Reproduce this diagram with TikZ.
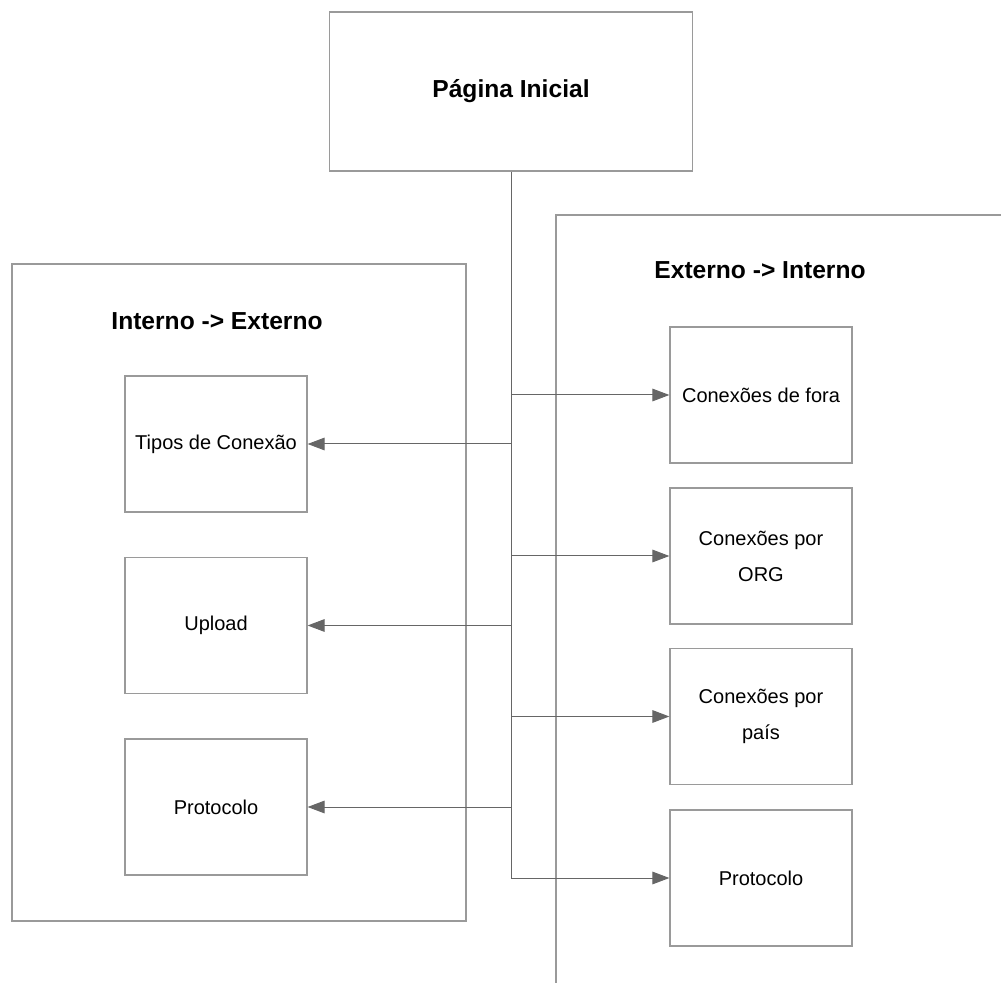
\documentclass[tikz,border=0pt]{standalone}
\usepackage{fontspec}
\setmainfont{Liberation Sans}
\usetikzlibrary{arrows.meta}
\definecolor{cinzaborda}{HTML}{9A9A9A}
\definecolor{cinzaseta}{HTML}{666666}

\begin{document}
\begin{tikzpicture}[x=0.5pt,y=-0.5pt,
		moldura/.style={draw=cinzaborda, line width=0.6pt, inner sep=0pt},
		caixa/.style={draw=cinzaborda, line width=0.6pt, minimum width=91pt, minimum height=68pt, inner sep=0pt, align=center, font=\fontsize{10}{18}\selectfont},
		titulo/.style={font=\fontsize{12.3}{15}\selectfont\bfseries},
		seta/.style={draw=cinzaseta, line width=0.5pt, -{Triangle[length=8.5pt, width=6.3pt]}}]
		\useasboundingbox (0,0) rectangle (1001,983);
		\clip (0,0) rectangle (1001,983);
		% grupos
		\node[moldura, minimum width=227pt, minimum height=328.5pt] (interno) at (239,592.5) {};
		\node[moldura, minimum width=230pt, minimum height=400pt] (externo) at (786,615) {};
		\node[titulo] (tInterno) at (217,321) {Interno -> Externo};
		\node[titulo] (tExterno) at (760,270) {Externo -> Interno};
		% pagina inicial
		\node[caixa, minimum width=181.5pt, minimum height=79.5pt] (inicio) at (511,91.5) {};
		\node[titulo] (tInicio) at (inicio) {Página Inicial};
		% caixas
		\foreach \n/\y/\t in {1/444/Tipos de Conexão, 2/625.5/Upload, 3/807/Protocolo}
		{
			\node[caixa] (i\n) at (216,\y) {\t};
		}
		\foreach \n/\y/\t in {1/395/Conexões de fora, 2/556/{Conexões por\\ORG}, 3/716.5/{Conexões por\\país}, 4/878/Protocolo}
		{
			\node[caixa] (e\n) at (761,\y) {\t};
		}
		% ligacoes
		\draw[seta] (inicio.south) |- (e4.west);
		\foreach \n in {1,2,3}
		{
			\draw[seta] (inicio.south |- e\n.west) -- (e\n.west);
			\draw[seta] (inicio.south |- i\n.east) -- (i\n.east);
		}
\end{tikzpicture}
\end{document}
